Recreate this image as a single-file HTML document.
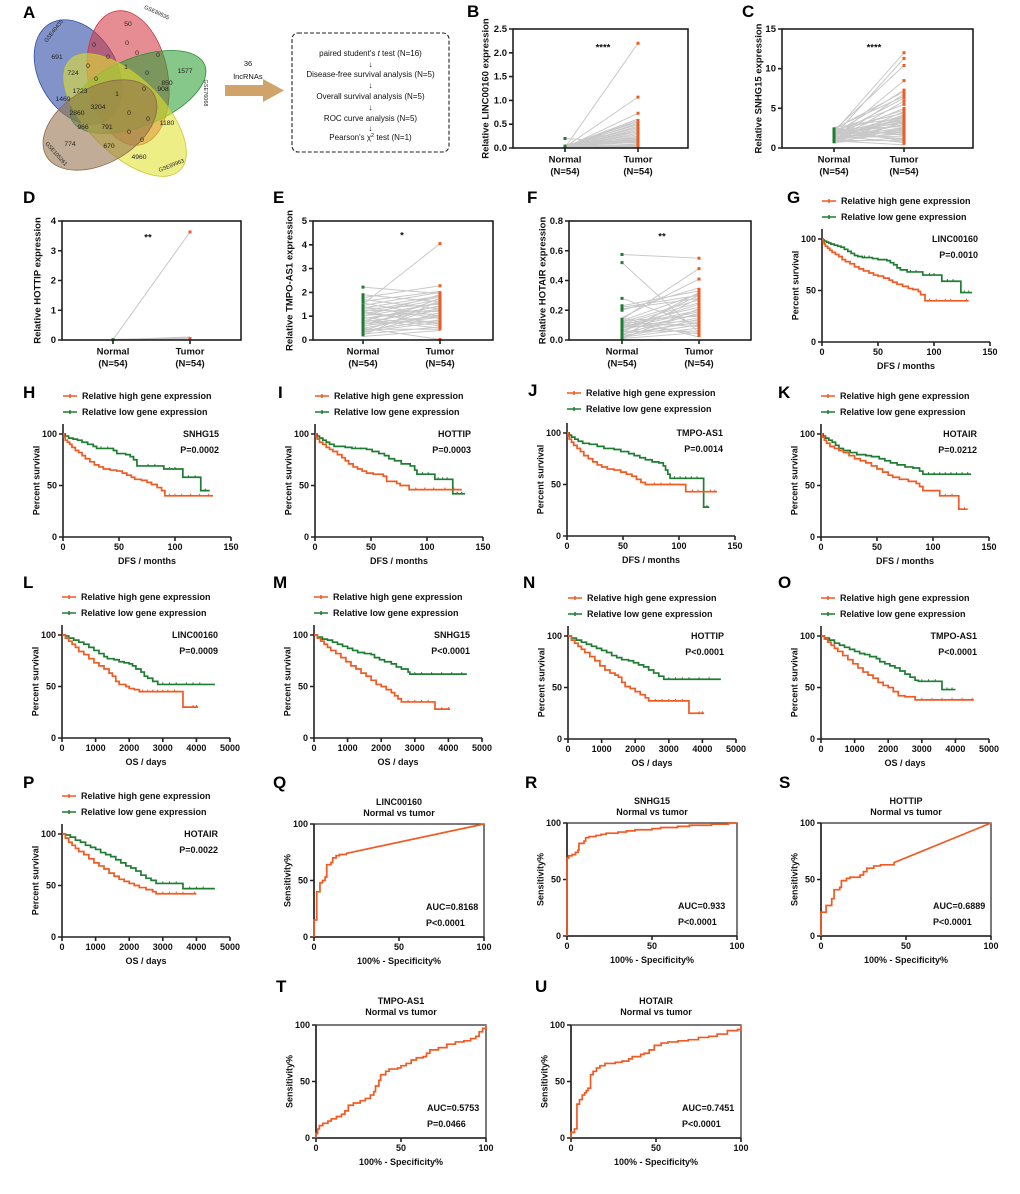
<!DOCTYPE html>
<html><head><meta charset="utf-8"><style>
html,body{margin:0;padding:0;background:#fff}
svg text{font-family:"Liberation Sans",Arial,sans-serif}
.b{font-weight:bold;font-size:9px;fill:#111}
.s{font-size:9.5px}
.e{text-anchor:end}.m{text-anchor:middle}
.L{font-weight:bold;font-size:17px;fill:#000}
.ax{fill:none;stroke:#222;stroke-width:1.6}
.c{fill:none;vector-effect:non-scaling-stroke;stroke-width:1.7}
.ct{fill:none;vector-effect:non-scaling-stroke;stroke-width:1}
.or{stroke:#f15a22}.gr{stroke:#1e7d32}
.lg{fill:none;stroke-width:1.5}
.gl{fill:none;stroke:#c8c8c8;stroke-width:1;vector-effect:non-scaling-stroke}
.dg{fill:none;stroke:#1e7d32;stroke-width:3;vector-effect:non-scaling-stroke}
.do{fill:none;stroke:#f15a22;stroke-width:3;vector-effect:non-scaling-stroke}
.vn{font-size:6.8px;fill:#222;text-anchor:middle}
.gs{font-size:5.5px;fill:#222;text-anchor:middle}
.fc{font-size:8px;fill:#111;text-anchor:middle}
</style></head><body>
<svg width="1020" height="1189" viewBox="0 0 1020 1189" xmlns="http://www.w3.org/2000/svg">
<rect width="1020" height="1189" fill="#fff"/>

<!-- Panel letters -->
<text class="L" x="23" y="18">A</text>
<text class="L" x="467" y="17">B</text>
<text class="L" x="742" y="17">C</text>
<text class="L" x="23" y="203">D</text>
<text class="L" x="273" y="203">E</text>
<text class="L" x="527" y="203">F</text>
<text class="L" x="787" y="203">G</text>
<text class="L" x="23" y="398">H</text>
<text class="L" x="278" y="398">I</text>
<text class="L" x="528" y="396">J</text>
<text class="L" x="778" y="398">K</text>
<text class="L" x="23" y="588">L</text>
<text class="L" x="273" y="588">M</text>
<text class="L" x="523" y="588">N</text>
<text class="L" x="778" y="588">O</text>
<text class="L" x="23" y="788">P</text>
<text class="L" x="273" y="788">Q</text>
<text class="L" x="525" y="788">R</text>
<text class="L" x="779" y="788">S</text>
<text class="L" x="276" y="992">T</text>
<text class="L" x="535" y="992">U</text>

<!-- Panel A Venn -->
<g>
<ellipse cx="78" cy="72" rx="56" ry="39" transform="rotate(60 78 72)" fill="#3550a8" fill-opacity="0.62" stroke="#3550a8" stroke-width="0.8"/>
<ellipse cx="128" cy="78" rx="68" ry="40" transform="rotate(80 128 78)" fill="#d43a45" fill-opacity="0.58" stroke="#c23a44" stroke-width="0.8"/>
<ellipse cx="138" cy="92" rx="72" ry="34" transform="rotate(-22 138 92)" fill="#2e9e35" fill-opacity="0.58" stroke="#2a8a30" stroke-width="0.8"/>
<ellipse cx="125" cy="115" rx="78" ry="38" transform="rotate(45 125 115)" fill="#e2e230" fill-opacity="0.58" stroke="#c8c82c" stroke-width="0.8"/>
<ellipse cx="100" cy="125" rx="62" ry="38" transform="rotate(-30 100 125)" fill="#94714c" fill-opacity="0.58" stroke="#8a6a48" stroke-width="0.8"/>
<text class="vn" x="128" y="26">50</text>
<text class="vn" x="94" y="47">0</text>
<text class="vn" x="127" y="45">0</text>
<text class="vn" x="137" y="55">0</text>
<text class="vn" x="158" y="57">0</text>
<text class="vn" x="57" y="59">691</text>
<text class="vn" x="108" y="59">0</text>
<text class="vn" x="126" y="69">1</text>
<text class="vn" x="88" y="68">0</text>
<text class="vn" x="185" y="73">1577</text>
<text class="vn" x="73" y="75">724</text>
<text class="vn" x="147" y="75">0</text>
<text class="vn" x="96" y="81">0</text>
<text class="vn" x="167" y="85">850</text>
<text class="vn" x="80" y="93">1723</text>
<text class="vn" x="117" y="96">1</text>
<text class="vn" x="144" y="91">0</text>
<text class="vn" x="163" y="91">908</text>
<text class="vn" x="63" y="101">1469</text>
<text class="vn" x="98" y="109">3204</text>
<text class="vn" x="77" y="115">2860</text>
<text class="vn" x="129" y="115">0</text>
<text class="vn" x="148" y="121">0</text>
<text class="vn" x="167" y="125">1180</text>
<text class="vn" x="83" y="129">966</text>
<text class="vn" x="107" y="129">791</text>
<text class="vn" x="129" y="134">0</text>
<text class="vn" x="70" y="146">774</text>
<text class="vn" x="142" y="142">0</text>
<text class="vn" x="109" y="148">670</text>
<text class="vn" x="139" y="159">4960</text>
<text class="gs" transform="translate(55,32) rotate(-52)">GSE40435</text>
<text class="gs" transform="translate(156,14) rotate(25)">GSE89535</text>
<text class="gs" transform="translate(204,93) rotate(90)">GSE76068</text>
<text class="gs" transform="translate(172,167) rotate(-22)">GSE89963</text>
<text class="gs" transform="translate(55,155) rotate(48)">GSE105261</text>
</g>

<!-- Arrow and flowchart -->
<text class="fc" x="248" y="66" style="font-size:7.5px">36</text>
<text class="fc" x="248" y="79" style="font-size:7.5px">lncRNAs</text>
<path d="M225,85H263V79L284,90.5L263,102V96H225Z" fill="#cfa36a"/>
<rect x="292" y="33" width="157" height="119" rx="6" fill="none" stroke="#222" stroke-width="1.1" stroke-dasharray="4,2"/>
<text class="fc" x="370.5" y="56">paired student's <tspan font-style="italic">t</tspan> test (N=16)</text>
<text class="fc" x="370.5" y="67">↓</text>
<text class="fc" x="370.5" y="77">Disease-free survival analysis (N=5)</text>
<text class="fc" x="370.5" y="88">↓</text>
<text class="fc" x="370.5" y="99">Overall survival analysis (N=5)</text>
<text class="fc" x="370.5" y="110">↓</text>
<text class="fc" x="370.5" y="121">ROC curve analysis (N=5)</text>
<text class="fc" x="370.5" y="131">↓</text>
<text class="fc" x="370.5" y="140">Pearson's χ<tspan dy="-3" font-size="5.5">2</tspan><tspan dy="3"> test (N=1)</tspan></text>

<!-- Panel B -->
<g transform="translate(513,148)">
<g transform="scale(1,-47.6)">
<path class="gl" d="M52,0.01L125,2.2M52,0.02L125,1.07M52,0.01L125,0.73M52,0.03L125,0.61M52,0.02L125,0.58M52,0.04L125,0.55M52,0.01L125,0.52M52,0.05L125,0.49M52,0.02L125,0.46M52,0.03L125,0.43M52,0.01L125,0.4M52,0.02L125,0.37M52,0.04L125,0.34M52,0.02L125,0.31M52,0.03L125,0.28M52,0.01L125,0.25M52,0.05L125,0.22M52,0.02L125,0.2M52,0.03L125,0.18M52,0.01L125,0.16M52,0.02L125,0.14M52,0.04L125,0.12M52,0.2L125,0.1M52,0.03L125,0.08M52,0.02L125,0.06M52,0.01L125,0.05M52,0.06L125,0.03M52,0.02L125,0.02M52,0.07L125,0.01M52,0.03L125,0.04"/>
<path class="dg" d="M52,0V0.07M50.5,0.2H53.5"/>
<path class="do" d="M125,0V0.61M123.5,0.73H126.5M123.5,1.07H126.5M123.5,2.2H126.5"/>
</g>
<rect x="0" y="-119" width="175" height="119" fill="none" stroke="#111" stroke-width="1.5"/>
<path class="ax" d="M-4,0H0M-4,-23.8H0M-4,-47.6H0M-4,-71.4H0M-4,-95.2H0M-4,-119H0M52,0v4M125,0v4"/>
<text class="b s e" x="-6" y="3">0.0</text><text class="b s e" x="-6" y="-20.8">0.5</text><text class="b s e" x="-6" y="-44.6">1.0</text><text class="b s e" x="-6" y="-68.4">1.5</text><text class="b s e" x="-6" y="-92.2">2.0</text><text class="b s e" x="-6" y="-116">2.5</text>
<text class="b s m" x="90" y="-97.5">****</text>
<text class="b s m" x="52" y="14.5">Normal</text><text class="b s m" x="52" y="26.5">(N=54)</text>
<text class="b s m" x="125" y="14.5">Tumor</text><text class="b s m" x="125" y="26.5">(N=54)</text>
<text class="b s m" transform="translate(-24.5,-59.5) rotate(-90)">Relative LINC00160 expression</text>
</g>

<!-- Panel C -->
<g transform="translate(782,148)">
<g transform="scale(1,-7.933)">
<path class="gl" d="M52,2.0L122,12.0M52,1.5L122,11.3M52,2.2L122,10.4M52,1.2L122,8.5M52,1.8L122,7.3M52,2.4L122,7.1M52,1.0L122,6.8M52,2.5L122,6.5M52,1.6L122,6.3M52,0.9L122,5.9M52,2.1L122,5.5M52,1.4L122,5.0M52,1.9L122,4.8M52,0.8L122,4.6M52,2.3L122,4.4M52,1.1L122,4.2M52,1.7L122,4.0M52,0.7L122,3.9M52,2.6L122,3.8M52,1.3L122,3.7M52,2.0L122,3.5M52,1.5L122,3.4M52,0.9L122,3.2M52,2.2L122,3.1M52,1.0L122,3.0M52,1.8L122,2.9M52,2.4L122,2.7M52,1.2L122,2.6M52,0.6L122,2.5M52,1.6L122,2.4M52,2.1L122,2.2M52,1.4L122,2.1M52,0.8L122,2.0M52,1.9L122,1.9M52,1.1L122,1.8M52,2.5L122,1.6M52,1.3L122,1.5M52,0.7L122,1.3M52,1.7L122,1.2M52,2.3L122,1.0M52,1.0L122,0.9M52,1.5L122,0.7M52,0.9L122,0.4M52,2.0L122,1.1M52,1.2L122,2.3M52,1.8L122,3.3M52,0.6L122,4.1M52,2.6L122,0.8"/>
<path class="dg" d="M52,0.6V2.6"/>
<path class="do" d="M122,0.4V4.2M120.5,4.4H123.5M120.5,4.6H123.5M120.5,4.8H123.5M120.5,5.0H123.5M120.5,5.5H123.5M120.5,5.9H123.5M120.5,6.3H123.5M120.5,6.5H123.5M120.5,6.8H123.5M120.5,7.1H123.5M120.5,7.3H123.5M120.5,8.5H123.5M120.5,10.4H123.5M120.5,11.3H123.5M120.5,12.0H123.5"/>
</g>
<rect x="0" y="-119" width="191" height="119" fill="none" stroke="#111" stroke-width="1.5"/>
<path class="ax" d="M-4,0H0M-4,-39.67H0M-4,-79.33H0M-4,-119H0M52,0v4M122,0v4"/>
<text class="b s e" x="-6" y="3">0</text><text class="b s e" x="-6" y="-36.7">5</text><text class="b s e" x="-6" y="-76.3">10</text><text class="b s e" x="-6" y="-116">15</text>
<text class="b s m" x="92" y="-97.5">****</text>
<text class="b s m" x="52" y="14.5">Normal</text><text class="b s m" x="52" y="26.5">(N=54)</text>
<text class="b s m" x="122" y="14.5">Tumor</text><text class="b s m" x="122" y="26.5">(N=54)</text>
<text class="b s m" transform="translate(-20.5,-59.5) rotate(-90)">Relative SNHG15 expression</text>
</g>

<!-- Panel D -->
<g transform="translate(62,340)">
<g transform="scale(1,-29.75)">
<path class="gl" d="M51,0.01L128,3.63M51,0.01L128,0.1M51,0.02L128,0.08M51,0.01L128,0.06M51,0.02L128,0.04M51,0.01L128,0.02M51,0.01L128,0.01"/>
<path class="dg" d="M49.5,0.01H52.5"/>
<path class="do" d="M128,0V0.1M126.5,3.63H129.5"/>
</g>
<rect x="0" y="-119" width="179" height="119" fill="none" stroke="#111" stroke-width="1.5"/>
<path class="ax" d="M-4,0H0M-4,-29.75H0M-4,-59.5H0M-4,-89.25H0M-4,-119H0M51,0v4M128,0v4"/>
<text class="b s e" x="-6" y="3">0</text><text class="b s e" x="-6" y="-26.75">1</text><text class="b s e" x="-6" y="-56.5">2</text><text class="b s e" x="-6" y="-86.25">3</text><text class="b s e" x="-6" y="-116">4</text>
<text class="b s m" x="86" y="-99.5">**</text>
<text class="b s m" x="51" y="14.5">Normal</text><text class="b s m" x="51" y="26.5">(N=54)</text>
<text class="b s m" x="128" y="14.5">Tumor</text><text class="b s m" x="128" y="26.5">(N=54)</text>
<text class="b s m" transform="translate(-21.5,-59.5) rotate(-90)">Relative HOTTIP expression</text>
</g>

<!-- Panel E -->
<g transform="translate(313,340)">
<g transform="scale(1,-23.8)">
<path class="gl" d="M50,2.22L127,1.95M50,1.9L127,1.6M50,1.5L127,4.05M50,1.78L127,2.28M50,1.7L127,1.3M50,1.62L127,2.05M50,1.55L127,1.0M50,1.45L127,2.0M50,1.4L127,0.9M50,1.35L127,1.85M50,1.3L127,1.5M50,1.25L127,1.2M50,1.2L127,1.8M50,1.15L127,0.7M50,1.1L127,1.7M50,1.05L127,1.1M50,1.0L127,1.9M50,0.95L127,0.6M50,0.9L127,1.4M50,0.85L127,0.5M50,0.8L127,1.6M50,0.75L127,1.25M50,0.7L127,0.8M50,0.65L127,1.45M50,0.6L127,0.95M50,0.55L127,1.75M50,0.5L127,1.05M50,0.45L127,0.45M50,0.4L127,1.35M50,0.35L127,0.75M50,0.3L127,1.15M50,0.25L127,0.55M50,0.2L127,1.65M50,0.15L127,0.4M50,0.5L127,0.02M50,1.0L127,1.55M50,0.7L127,1.0M50,0.4L127,0.85M50,1.2L127,0.65M50,0.9L127,1.3"/>
<path class="dg" d="M50,0.15V1.55M48.5,1.62H51.5M48.5,1.7H51.5M48.5,1.78H51.5M48.5,1.9H51.5M48.5,2.22H51.5"/>
<path class="do" d="M127,0.4V2.05M125.5,2.28H128.5M125.5,4.05H128.5M125.5,0.02H128.5"/>
</g>
<rect x="0" y="-119" width="180" height="119" fill="none" stroke="#111" stroke-width="1.5"/>
<path class="ax" d="M-4,0H0M-4,-23.8H0M-4,-47.6H0M-4,-71.4H0M-4,-95.2H0M-4,-119H0M50,0v4M127,0v4"/>
<text class="b s e" x="-6" y="3">0</text><text class="b s e" x="-6" y="-20.8">1</text><text class="b s e" x="-6" y="-44.6">2</text><text class="b s e" x="-6" y="-68.4">3</text><text class="b s e" x="-6" y="-92.2">4</text><text class="b s e" x="-6" y="-116">5</text>
<text class="b s m" x="89" y="-101.5">*</text>
<text class="b s m" x="50" y="14.5">Normal</text><text class="b s m" x="50" y="26.5">(N=54)</text>
<text class="b s m" x="127" y="14.5">Tumor</text><text class="b s m" x="127" y="26.5">(N=54)</text>
<text class="b s m" transform="translate(-20.5,-59.5) rotate(-90)">Relative TMPO-AS1 expression</text>
</g>

<!-- Panel F -->
<g transform="translate(569,340)">
<g transform="scale(1,-148.75)">
<path class="gl" d="M53,0.575L130,0.55M53,0.52L130,0.05M53,0.28L130,0.1M53,0.23L130,0.33M53,0.22L130,0.3M53,0.21L130,0.28M53,0.2L130,0.35M53,0.15L130,0.41M53,0.14L130,0.48M53,0.13L130,0.31M53,0.12L130,0.27M53,0.11L130,0.25M53,0.1L130,0.22M53,0.09L130,0.2M53,0.08L130,0.19M53,0.07L130,0.17M53,0.06L130,0.3M53,0.05L130,0.15M53,0.04L130,0.12M53,0.03L130,0.1M53,0.02L130,0.08M53,0.01L130,0.05M53,0.15L130,0.02M53,0.12L130,0.09M53,0.1L130,0.13M53,0.08L130,0.24M53,0.06L130,0.06M53,0.04L130,0.18M53,0.03L130,0.28M53,0.02L130,0.14M53,0.11L130,0.04M53,0.13L130,0.16M53,0.05L130,0.32M53,0.09L130,0.11M53,0.01L130,0.21"/>
<path class="dg" d="M53,0V0.15M51.5,0.2H54.5M51.5,0.21H54.5M51.5,0.22H54.5M51.5,0.23H54.5M51.5,0.28H54.5M51.5,0.52H54.5M51.5,0.575H54.5"/>
<path class="do" d="M130,0.02V0.35M128.5,0.41H131.5M128.5,0.48H131.5M128.5,0.55H131.5"/>
</g>
<rect x="0" y="-119" width="182" height="119" fill="none" stroke="#111" stroke-width="1.5"/>
<path class="ax" d="M-4,0H0M-4,-29.75H0M-4,-59.5H0M-4,-89.25H0M-4,-119H0M53,0v4M130,0v4"/>
<text class="b s e" x="-6" y="3">0.0</text><text class="b s e" x="-6" y="-26.75">0.2</text><text class="b s e" x="-6" y="-56.5">0.4</text><text class="b s e" x="-6" y="-86.25">0.6</text><text class="b s e" x="-6" y="-116">0.8</text>
<text class="b s m" x="93" y="-100.5">**</text>
<text class="b s m" x="53" y="14.5">Normal</text><text class="b s m" x="53" y="26.5">(N=54)</text>
<text class="b s m" x="130" y="14.5">Tumor</text><text class="b s m" x="130" y="26.5">(N=54)</text>
<text class="b s m" transform="translate(-23.5,-59.5) rotate(-90)">Relative HOTAIR expression</text>
</g>

<!-- ===== Survival panels (DFS) ===== -->
<!-- G -->
<g transform="translate(822,342)">
<path class="ax" d="M0,-113V0H168M-4,0H0M-4,-51.5H0M-4,-103H0M0,0v4M56,0v4M112,0v4M168,0v4"/>
<text class="b e" x="-6" y="3">0</text><text class="b e" x="-6" y="-48.5">50</text><text class="b e" x="-6" y="-100">100</text>
<text class="b m" x="0" y="13">0</text><text class="b m" x="56" y="13">50</text><text class="b m" x="112" y="13">100</text><text class="b m" x="168" y="13">150</text>
<text class="b m" x="84" y="27">DFS / months</text>
<text class="b m" transform="translate(-23.5,-56.5) rotate(-90)">Percent survival</text>
<path class="lg or" d="M0,-141h14M7,-143v4"/><text class="b" x="19" y="-138">Relative high gene expression</text>
<path class="lg gr" d="M0,-125h14M7,-127v4"/><text class="b" x="19" y="-122">Relative low gene expression</text>
<text class="b e" x="156" y="-100">LINC00160</text><text class="b e" x="156" y="-84">P=0.0010</text>
<g transform="scale(1.12,-1.03)">
<path class="c gr" d="M0,100H1V99H2V98H4V97H6V96H8V95H11V94H14V93H17V92H20V90H23V88H26V86H29V84H32V83H36V82H45V81H50V80H58V79H61V77H64V75H67V72H70V70H76V68H90V65H107V59H124V48H134"/>
<path class="c or" d="M0,100H1V97H2V95H3V93H5V91H7V89H9V87H12V85H15V83H18V80H21V78H25V76H29V73H33V71H37V69H42V67H46V65H50V64H55V62H60V60H63V58H67V56H72V54H77V52H81V51H86V49H88V46H92V40H131"/>
<path class="ct gr" d="M38,82V84M42,82V84M79,68V70M84,68V70M96,65V67M100,65V67M112,59V61M117,59V61M127,48V50M131,48V50"/>
<path class="ct or" d="M96,40V42M102,40V42M110,40V42M115,40V42M129,40V42"/>
</g>
</g>

<!-- H -->
<g transform="translate(63,537)">
<path class="ax" d="M0,-113V0H168M-4,0H0M-4,-51.5H0M-4,-103H0M0,0v4M56,0v4M112,0v4M168,0v4"/>
<text class="b e" x="-6" y="3">0</text><text class="b e" x="-6" y="-48.5">50</text><text class="b e" x="-6" y="-100">100</text>
<text class="b m" x="0" y="13">0</text><text class="b m" x="56" y="13">50</text><text class="b m" x="112" y="13">100</text><text class="b m" x="168" y="13">150</text>
<text class="b m" x="84" y="27">DFS / months</text>
<text class="b m" transform="translate(-23.5,-56.5) rotate(-90)">Percent survival</text>
<path class="lg or" d="M0,-141h14M7,-143v4"/><text class="b" x="19" y="-138">Relative high gene expression</text>
<path class="lg gr" d="M0,-125h14M7,-127v4"/><text class="b" x="19" y="-122">Relative low gene expression</text>
<text class="b e" x="156" y="-100">SNHG15</text><text class="b e" x="156" y="-84">P=0.0002</text>
<g transform="scale(1.12,-1.03)">
<path class="c gr" d="M0,100H2V98H5V96H9V95H13V94H17V92H22V90H27V88H30V86H45V84H48V81H56V80H60V78H63V75H66V69H90V66H107V58H123V45H131"/>
<path class="c or" d="M0,100H1V97H2V94H4V92H6V90H8V87H11V84H14V82H17V79H20V76H24V73H28V70H32V68H36V66H42V65H48V64H53V62H57V60H61V58H64V56H70V55H75V53H79V51H84V48H88V45H91V40H134"/>
<path class="ct gr" d="M34,86V88M40,86V88M76,69V71M82,69V71M95,66V68M100,66V68M112,58V60M118,58V60M127,45V47"/>
<path class="ct or" d="M95,40V42M100,40V42M106,40V42M114,40V42M122,40V42M130,40V42"/>
</g>
</g>

<!-- I -->
<g transform="translate(315,537)">
<path class="ax" d="M0,-113V0H168M-4,0H0M-4,-51.5H0M-4,-103H0M0,0v4M56,0v4M112,0v4M168,0v4"/>
<text class="b e" x="-6" y="3">0</text><text class="b e" x="-6" y="-48.5">50</text><text class="b e" x="-6" y="-100">100</text>
<text class="b m" x="0" y="13">0</text><text class="b m" x="56" y="13">50</text><text class="b m" x="112" y="13">100</text><text class="b m" x="168" y="13">150</text>
<text class="b m" x="84" y="27">DFS / months</text>
<text class="b m" transform="translate(-23.5,-56.5) rotate(-90)">Percent survival</text>
<path class="lg or" d="M0,-141h14M7,-143v4"/><text class="b" x="19" y="-138">Relative high gene expression</text>
<path class="lg gr" d="M0,-125h14M7,-127v4"/><text class="b" x="19" y="-122">Relative low gene expression</text>
<text class="b e" x="156" y="-100">HOTTIP</text><text class="b e" x="156" y="-84">P=0.0003</text>
<g transform="scale(1.12,-1.03)">
<path class="c gr" d="M0,100H2V98H4V96H7V94H10V92H13V90H17V88H27V87H33V86H46V85H51V83H57V81H62V79H66V76H71V74H77V71H85V69H89V65H91V61H107V56H123V42H134"/>
<path class="c or" d="M0,100H1V97H2V95H4V92H7V90H10V87H13V85H16V83H20V80H24V77H27V74H30V71H34V68H38V66H42V64H46V62H52V61H61V59H64V54H73V52H76V50H84V46H131"/>
<path class="ct gr" d="M36,86V88M41,85V87M96,61V63M101,61V63M110,56V58M114,56V58M118,56V58M127,42V44M131,42V44"/>
<path class="ct or" d="M90,46V48M98,46V48M106,46V48M116,46V48M124,46V48"/>
</g>
</g>

<!-- J -->
<g transform="translate(567,536)">
<path class="ax" d="M0,-113V0H168M-4,0H0M-4,-51.5H0M-4,-103H0M0,0v4M56,0v4M112,0v4M168,0v4"/>
<text class="b e" x="-6" y="3">0</text><text class="b e" x="-6" y="-48.5">50</text><text class="b e" x="-6" y="-100">100</text>
<text class="b m" x="0" y="13">0</text><text class="b m" x="56" y="13">50</text><text class="b m" x="112" y="13">100</text><text class="b m" x="168" y="13">150</text>
<text class="b m" x="84" y="27">DFS / months</text>
<text class="b m" transform="translate(-23.5,-56.5) rotate(-90)">Percent survival</text>
<path class="lg or" d="M0,-143h14M7,-145v4"/><text class="b" x="19" y="-140">Relative high gene expression</text>
<path class="lg gr" d="M0,-127h14M7,-129v4"/><text class="b" x="19" y="-124">Relative low gene expression</text>
<text class="b e" x="156" y="-100">TMPO-AS1</text><text class="b e" x="156" y="-84">P=0.0014</text>
<g transform="scale(1.12,-1.03)">
<path class="c gr" d="M0,100H2V98H4V96H7V94H10V92H14V90H20V89H27V87H33V85H42V84H48V82H55V80H60V78H65V76H70V74H76V72H82V71H86V68H88V64H90V60H92V56H122V28H127"/>
<path class="c or" d="M0,100H1V97H2V94H4V91H6V88H9V85H12V82H15V78H19V75H23V72H27V69H31V67H36V65H42V64H48V62H53V60H58V58H62V55H66V52H70V50H106V43H134"/>
<path class="ct gr" d="M96,56V58M101,56V58M106,56V58M111,56V58M116,56V58M125,28V30"/>
<path class="ct or" d="M78,50V52M84,50V52M92,50V52M112,43V45M117,43V45M128,43V45M132,43V45"/>
</g>
</g>

<!-- K -->
<g transform="translate(821,537)">
<path class="ax" d="M0,-113V0H168M-4,0H0M-4,-51.5H0M-4,-103H0M0,0v4M56,0v4M112,0v4M168,0v4"/>
<text class="b e" x="-6" y="3">0</text><text class="b e" x="-6" y="-48.5">50</text><text class="b e" x="-6" y="-100">100</text>
<text class="b m" x="0" y="13">0</text><text class="b m" x="56" y="13">50</text><text class="b m" x="112" y="13">100</text><text class="b m" x="168" y="13">150</text>
<text class="b m" x="84" y="27">DFS / months</text>
<text class="b m" transform="translate(-23.5,-56.5) rotate(-90)">Percent survival</text>
<path class="lg or" d="M0,-141h14M7,-143v4"/><text class="b" x="19" y="-138">Relative high gene expression</text>
<path class="lg gr" d="M0,-125h14M7,-127v4"/><text class="b" x="19" y="-122">Relative low gene expression</text>
<text class="b e" x="156" y="-100">HOTAIR</text><text class="b e" x="156" y="-84">P=0.0212</text>
<g transform="scale(1.12,-1.03)">
<path class="c gr" d="M0,100H2V98H4V96H7V94H10V92H13V89H16V86H20V84H26V82H32V80H40V79H45V78H52V76H57V74H62V72H68V70H75V68H82V67H88V64H91V61H134"/>
<path class="c or" d="M0,100H1V97H3V94H5V91H8V88H12V86H16V84H20V82H25V79H30V76H35V74H40V72H45V69H50V66H55V63H60V60H64V58H70V56H78V54H85V52H88V49H91V45H106V40H123V27H131"/>
<path class="ct gr" d="M96,61V63M101,61V63M106,61V63M111,61V63M116,61V63M121,61V63M126,61V63M131,61V63"/>
<path class="ct or" d="M111,40V42M117,40V42M128,27V29"/>
</g>
</g>

<!-- ===== Survival panels (OS) ===== -->
<!-- L -->
<g transform="translate(62,738)">
<path class="ax" d="M0,-113V0H168M-4,0H0M-4,-51.5H0M-4,-103H0M0,0v4M33.6,0v4M67.2,0v4M100.8,0v4M134.4,0v4M168,0v4"/>
<text class="b e" x="-6" y="3">0</text><text class="b e" x="-6" y="-48.5">50</text><text class="b e" x="-6" y="-100">100</text>
<text class="b m" x="0" y="13">0</text><text class="b m" x="33.6" y="13">1000</text><text class="b m" x="67.2" y="13">2000</text><text class="b m" x="100.8" y="13">3000</text><text class="b m" x="134.4" y="13">4000</text><text class="b m" x="168" y="13">5000</text>
<text class="b m" x="84" y="27">OS / days</text>
<text class="b m" transform="translate(-23.5,-56.5) rotate(-90)">Percent survival</text>
<path class="lg or" d="M0,-141h14M7,-143v4"/><text class="b" x="19" y="-138">Relative high gene expression</text>
<path class="lg gr" d="M0,-125h14M7,-127v4"/><text class="b" x="19" y="-122">Relative low gene expression</text>
<text class="b e" x="156" y="-100">LINC00160</text><text class="b e" x="156" y="-84">P=0.0009</text>
<g transform="scale(0.0336,-1.03)">
<path class="c gr" d="M0,100H100V99H200V97H350V95H500V93H650V91H800V88H950V85H1100V82H1250V79H1350V77H1550V76H1700V74H1850V73H2000V72H2100V70H2200V67H2350V64H2450V60H2550V58H2700V55H2850V52H4550"/>
<path class="c or" d="M0,100H100V97H200V94H300V91H400V88H500V84H650V81H800V77H950V73H1100V70H1250V67H1400V63H1500V60H1600V55H1700V52H1900V50H2000V48H2150V47H2300V45H3600V30H4050"/>
<path class="ct gr" d="M3000,52V54M3200,52V54M3400,52V54M3700,52V54M3900,52V54M4100,52V54"/>
<path class="ct or" d="M2400,45V47M2550,45V47M2700,45V47M2850,45V47M3000,45V47M3150,45V47M3350,45V47M3900,30V32M4000,30V32"/>
</g>
</g>

<!-- M -->
<g transform="translate(314,738)">
<path class="ax" d="M0,-113V0H168M-4,0H0M-4,-51.5H0M-4,-103H0M0,0v4M33.6,0v4M67.2,0v4M100.8,0v4M134.4,0v4M168,0v4"/>
<text class="b e" x="-6" y="3">0</text><text class="b e" x="-6" y="-48.5">50</text><text class="b e" x="-6" y="-100">100</text>
<text class="b m" x="0" y="13">0</text><text class="b m" x="33.6" y="13">1000</text><text class="b m" x="67.2" y="13">2000</text><text class="b m" x="100.8" y="13">3000</text><text class="b m" x="134.4" y="13">4000</text><text class="b m" x="168" y="13">5000</text>
<text class="b m" x="84" y="27">OS / days</text>
<text class="b m" transform="translate(-23.5,-56.5) rotate(-90)">Percent survival</text>
<path class="lg or" d="M0,-141h14M7,-143v4"/><text class="b" x="19" y="-138">Relative high gene expression</text>
<path class="lg gr" d="M0,-125h14M7,-127v4"/><text class="b" x="19" y="-122">Relative low gene expression</text>
<text class="b e" x="156" y="-100">SNHG15</text><text class="b e" x="156" y="-84">P&lt;0.0001</text>
<g transform="scale(0.0336,-1.03)">
<path class="c gr" d="M0,100H100V98H250V96H400V95H550V93H700V91H850V89H1000V87H1150V85H1300V83H1500V82H1700V81H1800V78H1950V76H2100V74H2300V72H2450V69H2600V67H2800V64H2850V62H4550"/>
<path class="c or" d="M0,100H100V97H200V94H300V91H400V88H500V85H650V82H800V78H950V74H1100V70H1250V67H1400V63H1550V60H1700V56H1850V52H2000V50H2150V47H2300V44H2400V41H2500V38H2600V35H3600V28H4050"/>
<path class="ct gr" d="M3000,62V64M3200,62V64M3500,62V64M3800,62V64M4100,62V64M4400,62V64"/>
<path class="ct or" d="M2800,35V37M3000,35V37M3200,35V37M3400,35V37M3800,28V30M4000,28V30"/>
</g>
</g>

<!-- N -->
<g transform="translate(568,739)">
<path class="ax" d="M0,-113V0H168M-4,0H0M-4,-51.5H0M-4,-103H0M0,0v4M33.6,0v4M67.2,0v4M100.8,0v4M134.4,0v4M168,0v4"/>
<text class="b e" x="-6" y="3">0</text><text class="b e" x="-6" y="-48.5">50</text><text class="b e" x="-6" y="-100">100</text>
<text class="b m" x="0" y="13">0</text><text class="b m" x="33.6" y="13">1000</text><text class="b m" x="67.2" y="13">2000</text><text class="b m" x="100.8" y="13">3000</text><text class="b m" x="134.4" y="13">4000</text><text class="b m" x="168" y="13">5000</text>
<text class="b m" x="84" y="27">OS / days</text>
<text class="b m" transform="translate(-23.5,-56.5) rotate(-90)">Percent survival</text>
<path class="lg or" d="M0,-141h14M7,-143v4"/><text class="b" x="19" y="-138">Relative high gene expression</text>
<path class="lg gr" d="M0,-125h14M7,-127v4"/><text class="b" x="19" y="-122">Relative low gene expression</text>
<text class="b e" x="156" y="-100">HOTTIP</text><text class="b e" x="156" y="-84">P&lt;0.0001</text>
<g transform="scale(0.0336,-1.03)">
<path class="c gr" d="M0,100H100V98H250V96H400V94H550V92H700V90H850V88H1000V86H1150V84H1300V81H1450V79H1600V77H1800V76H1950V74H2100V72H2250V70H2400V67H2550V64H2700V61H2850V58H4550"/>
<path class="c or" d="M0,100H100V96H200V93H300V90H400V87H500V84H650V80H800V76H950V71H1100V67H1250V64H1400V62H1500V60H1600V55H1700V51H1850V49H2000V46H2150V43H2300V40H2400V37H3600V25H4050"/>
<path class="ct gr" d="M3000,58V60M3200,58V60M3400,58V60M3600,58V60M3900,58V60M4200,58V60"/>
<path class="ct or" d="M2600,37V39M2800,37V39M3000,37V39M3200,37V39M3400,37V39M3900,25V27M4000,25V27"/>
</g>
</g>

<!-- O -->
<g transform="translate(821,739)">
<path class="ax" d="M0,-113V0H168M-4,0H0M-4,-51.5H0M-4,-103H0M0,0v4M33.6,0v4M67.2,0v4M100.8,0v4M134.4,0v4M168,0v4"/>
<text class="b e" x="-6" y="3">0</text><text class="b e" x="-6" y="-48.5">50</text><text class="b e" x="-6" y="-100">100</text>
<text class="b m" x="0" y="13">0</text><text class="b m" x="33.6" y="13">1000</text><text class="b m" x="67.2" y="13">2000</text><text class="b m" x="100.8" y="13">3000</text><text class="b m" x="134.4" y="13">4000</text><text class="b m" x="168" y="13">5000</text>
<text class="b m" x="84" y="27">OS / days</text>
<text class="b m" transform="translate(-23.5,-56.5) rotate(-90)">Percent survival</text>
<path class="lg or" d="M0,-141h14M7,-143v4"/><text class="b" x="19" y="-138">Relative high gene expression</text>
<path class="lg gr" d="M0,-125h14M7,-127v4"/><text class="b" x="19" y="-122">Relative low gene expression</text>
<text class="b e" x="156" y="-100">TMPO-AS1</text><text class="b e" x="156" y="-84">P&lt;0.0001</text>
<g transform="scale(0.0336,-1.03)">
<path class="c gr" d="M0,100H100V98H250V96H400V93H550V91H700V89H850V87H1000V85H1150V83H1300V82H1450V80H1650V78H1750V75H1900V73H2050V71H2200V69H2350V66H2500V63H2650V60H2800V57H2900V56H3600V48H4000"/>
<path class="c or" d="M0,100H100V97H200V94H300V91H400V88H500V85H650V81H800V77H950V73H1100V69H1250V65H1400V62H1550V59H1700V55H1850V52H2000V50H2150V46H2300V42H2500V41H2800V38H4550"/>
<path class="ct gr" d="M3000,56V58M3200,56V58M3400,56V58M3750,48V50M3900,48V50"/>
<path class="ct or" d="M3000,38V40M3300,38V40M3600,38V40M3900,38V40M4200,38V40M4500,38V40"/>
</g>
</g>

<!-- P -->
<g transform="translate(62,937)">
<path class="ax" d="M0,-113V0H168M-4,0H0M-4,-51.5H0M-4,-103H0M0,0v4M33.6,0v4M67.2,0v4M100.8,0v4M134.4,0v4M168,0v4"/>
<text class="b e" x="-6" y="3">0</text><text class="b e" x="-6" y="-48.5">50</text><text class="b e" x="-6" y="-100">100</text>
<text class="b m" x="0" y="13">0</text><text class="b m" x="33.6" y="13">1000</text><text class="b m" x="67.2" y="13">2000</text><text class="b m" x="100.8" y="13">3000</text><text class="b m" x="134.4" y="13">4000</text><text class="b m" x="168" y="13">5000</text>
<text class="b m" x="84" y="27">OS / days</text>
<text class="b m" transform="translate(-23.5,-56.5) rotate(-90)">Percent survival</text>
<path class="lg or" d="M0,-141h14M7,-143v4"/><text class="b" x="19" y="-138">Relative high gene expression</text>
<path class="lg gr" d="M0,-125h14M7,-127v4"/><text class="b" x="19" y="-122">Relative low gene expression</text>
<text class="b e" x="156" y="-100">HOTAIR</text><text class="b e" x="156" y="-84">P=0.0022</text>
<g transform="scale(0.0336,-1.03)">
<path class="c gr" d="M0,100H100V99H250V97H400V94H550V92H700V89H850V87H1000V85H1150V82H1300V80H1450V78H1600V75H1750V72H1900V69H2050V67H2200V64H2350V60H2500V57H2650V55H2800V52H3600V47H4550"/>
<path class="c or" d="M0,100H100V96H200V92H300V89H400V86H500V83H650V80H800V76H950V72H1100V69H1250V66H1400V62H1550V59H1700V56H1850V54H2000V52H2150V50H2300V48H2500V46H2700V44H2800V42H4000"/>
<path class="ct gr" d="M3000,52V54M3200,52V54M3400,52V54M3800,47V49M4000,47V49M4200,47V49"/>
<path class="ct or" d="M3000,42V44M3200,42V44M3400,42V44M3600,42V44M3950,42V44"/>
</g>
</g>

<!-- ===== ROC panels ===== -->
<!-- Q -->
<g transform="translate(314,937)">
<rect x="0" y="-113" width="170" height="113" fill="none" stroke="#333" stroke-width="1.3"/>
<path class="ax" d="M0,-113V0H170M-4,0H0M-4,-56.5H0M-4,-113H0M0,0v4M85,0v4M170,0v4"/>
<text class="b e" x="-6" y="3">0</text><text class="b e" x="-6" y="-53.5">50</text><text class="b e" x="-6" y="-110">100</text>
<text class="b m" x="0" y="13">0</text><text class="b m" x="85" y="13">50</text><text class="b m" x="170" y="13">100</text>
<text class="b m" x="85" y="27">100% - Specificity%</text>
<text class="b m" transform="translate(-23.5,-56.5) rotate(-90)">Sensitivity%</text>
<text class="b m" x="85" y="-132">LINC00160</text><text class="b m" x="85" y="-121">Normal vs tumor</text>
<text class="b" x="112" y="-27">AUC=0.8168</text><text class="b" x="112" y="-11">P&lt;0.0001</text>
<g transform="scale(1.7,-1.13)"><path class="c or" d="M0,0V15H1.6V40H3.5V48H5V50H6.5V53H7.5V64H10V66H11V70H13V72H15V73H19V74L100,100"/></g>
</g>

<!-- R -->
<g transform="translate(567,936)">
<rect x="0" y="-113" width="170" height="113" fill="none" stroke="#333" stroke-width="1.3"/>
<path class="ax" d="M0,-113V0H170M-4,0H0M-4,-56.5H0M-4,-113H0M0,0v4M85,0v4M170,0v4"/>
<text class="b e" x="-6" y="3">0</text><text class="b e" x="-6" y="-53.5">50</text><text class="b e" x="-6" y="-110">100</text>
<text class="b m" x="0" y="13">0</text><text class="b m" x="85" y="13">50</text><text class="b m" x="170" y="13">100</text>
<text class="b m" x="85" y="27">100% - Specificity%</text>
<text class="b m" transform="translate(-23.5,-56.5) rotate(-90)">Sensitivity%</text>
<text class="b m" x="85" y="-132">SNHG15</text><text class="b m" x="85" y="-121">Normal vs tumor</text>
<text class="b" x="111" y="-27">AUC=0.933</text><text class="b" x="111" y="-11">P&lt;0.0001</text>
<g transform="scale(1.7,-1.13)"><path class="c or" d="M0,0V69H1V71H3V72H5V74H6.5V76H7V82H10V84H11V87H13V88H17V89H20V90H23V91H30V92H35V93H40V94H50V95H55V96H65V97H72V98H85V99H95V100H100"/></g>
</g>

<!-- S -->
<g transform="translate(821,936)">
<rect x="0" y="-113" width="170" height="113" fill="none" stroke="#333" stroke-width="1.3"/>
<path class="ax" d="M0,-113V0H170M-4,0H0M-4,-56.5H0M-4,-113H0M0,0v4M85,0v4M170,0v4"/>
<text class="b e" x="-6" y="3">0</text><text class="b e" x="-6" y="-53.5">50</text><text class="b e" x="-6" y="-110">100</text>
<text class="b m" x="0" y="13">0</text><text class="b m" x="85" y="13">50</text><text class="b m" x="170" y="13">100</text>
<text class="b m" x="85" y="27">100% - Specificity%</text>
<text class="b m" transform="translate(-23.5,-56.5) rotate(-90)">Sensitivity%</text>
<text class="b m" x="85" y="-132">HOTTIP</text><text class="b m" x="85" y="-121">Normal vs tumor</text>
<text class="b" x="112" y="-27">AUC=0.6889</text><text class="b" x="112" y="-11">P&lt;0.0001</text>
<g transform="scale(1.7,-1.13)"><path class="c or" d="M0,0V21H3V27H6.3V33H7.7V41H11V43H12V49H15V51H17V52H23V54H25V57H27V60H31V62H35V63H43V65L100,100"/></g>
</g>

<!-- T -->
<g transform="translate(316,1138)">
<rect x="0" y="-113" width="170" height="113" fill="none" stroke="#333" stroke-width="1.3"/>
<path class="ax" d="M0,-113V0H170M-4,0H0M-4,-56.5H0M-4,-113H0M0,0v4M85,0v4M170,0v4"/>
<text class="b e" x="-6" y="3">0</text><text class="b e" x="-6" y="-53.5">50</text><text class="b e" x="-6" y="-110">100</text>
<text class="b m" x="0" y="13">0</text><text class="b m" x="85" y="13">50</text><text class="b m" x="170" y="13">100</text>
<text class="b m" x="85" y="27">100% - Specificity%</text>
<text class="b m" transform="translate(-23.5,-56.5) rotate(-90)">Sensitivity%</text>
<text class="b m" x="85" y="-134">TMPO-AS1</text><text class="b m" x="85" y="-123">Normal vs tumor</text>
<text class="b" x="111" y="-27">AUC=0.5753</text><text class="b" x="111" y="-11">P=0.0466</text>
<g transform="scale(1.7,-1.13)"><path class="c or" d="M0,0V4H1V8H2V11H4V13H7V15H9V17H12V19H15V21H17V24H19V29H22V31H26V33H29V35H32V38H34V41H35V46H37V51H38V56H41V59H43V61H48V62H50V64H53V66H56V69H59V71H63V72H65V75H67V78H72V80H77V83H82V85H87V86H91V88H94V90H96V94H98V97H100V100"/></g>
</g>

<!-- U -->
<g transform="translate(571,1138)">
<rect x="0" y="-113" width="170" height="113" fill="none" stroke="#333" stroke-width="1.3"/>
<path class="ax" d="M0,-113V0H170M-4,0H0M-4,-56.5H0M-4,-113H0M0,0v4M85,0v4M170,0v4"/>
<text class="b e" x="-6" y="3">0</text><text class="b e" x="-6" y="-53.5">50</text><text class="b e" x="-6" y="-110">100</text>
<text class="b m" x="0" y="13">0</text><text class="b m" x="85" y="13">50</text><text class="b m" x="170" y="13">100</text>
<text class="b m" x="85" y="27">100% - Specificity%</text>
<text class="b m" transform="translate(-23.5,-56.5) rotate(-90)">Sensitivity%</text>
<text class="b m" x="85" y="-134">HOTAIR</text><text class="b m" x="85" y="-123">Normal vs tumor</text>
<text class="b" x="111" y="-27">AUC=0.7451</text><text class="b" x="111" y="-11">P&lt;0.0001</text>
<g transform="scale(1.7,-1.13)"><path class="c or" d="M0,0V5H2V8H3.5V30H5V34H6.6V38H8V40H9V42H10V44H11.5V56H13V59H15V62H17V64H20V66H26V67H30V68H34V70H36V72H41V74H43V75H46V78H49V82H53V84H57V85H63V86H69V87H75V89H81V90H86V92H92V95H98V96H100V100"/></g>
</g>

</svg>
</body></html>
